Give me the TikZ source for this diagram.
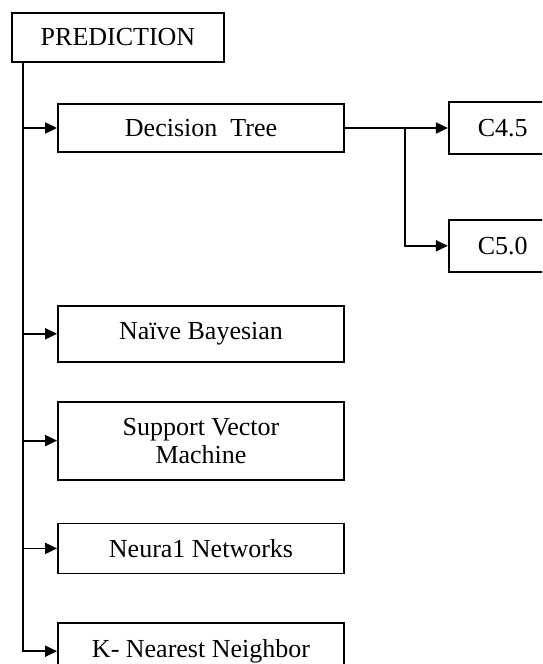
\documentclass[tikz,border=0pt]{standalone}
\usepackage{fontspec}
\setmainfont{Liberation Serif}
\usetikzlibrary{arrows.meta, positioning}

\begin{document}
\begin{tikzpicture}[
    x=0.5pt, y=-0.5pt,
    font=\fontsize{13}{14}\selectfont,
    box/.style={
      draw, line width=0.9pt,
      align=center,
      inner sep=2pt,
      minimum width=143pt
    },
    leaf/.style={box, minimum width=54pt, minimum height=26pt},
    arrow/.style={-{Triangle[length=6pt,width=5.5pt]}, line width=0.9pt}
]
\useasboundingbox (0,0) rectangle (542,664);
\clip (0,0) rectangle (542,664);

% --- Root ---
\node[box, minimum width=106pt, minimum height=24.5pt] (pred) at (118,37.5) {PREDICTION};
\coordinate (trunk) at ([xshift=6pt]pred.south west);

% --- Methods ---
\node[box, minimum height=24pt] (dtree) at (201,128) {Decision\ \ Tree};
\node[box, minimum height=28pt, below=76pt of dtree] (bayes) {Naïve Bayesian};
\node[box, minimum height=39pt, below=19pt of bayes] (svm) {Support Vector\\Machine};
\node[box, minimum height=25pt, below=21pt of svm] (neural) {Neura1 Networks};
\node[box, minimum height=28pt, below=24pt of neural] (knn) {K- Nearest Neighbor};

% --- Tree variants ---
\node[leaf, right=51.5pt of dtree] (cfour) {C4.5};
\node[leaf, below=32pt of cfour] (cfive) {C5.0};

% --- Arrows ---
\draw[arrow] (trunk) |- (dtree);
\draw[arrow] (trunk) |- (bayes);
\draw[arrow] (trunk) |- (svm);
\draw[arrow] (trunk) |- (neural);
\draw[arrow] (trunk) |- (knn);
\draw[arrow] (dtree) -- (cfour);
\draw[arrow] ([xshift=30pt]dtree.east) |- (cfive);

\end{tikzpicture}
\end{document}
